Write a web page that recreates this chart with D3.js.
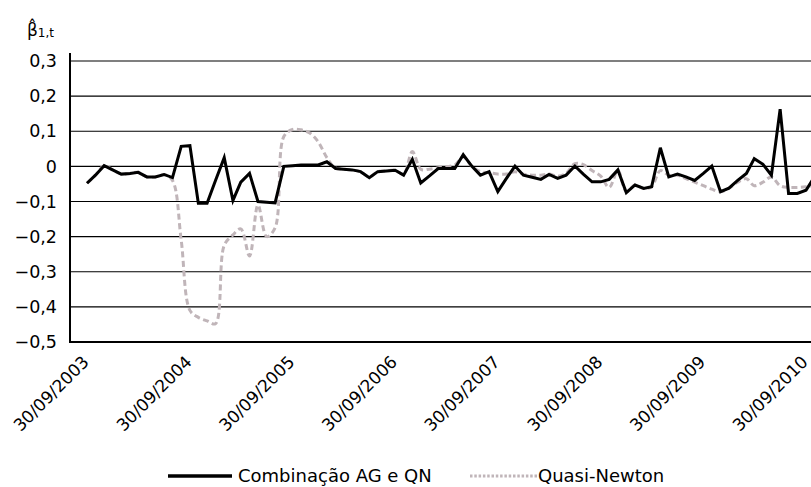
<!DOCTYPE html>
<html>
<head>
<meta charset="utf-8">
<script src="https://cdn.jsdelivr.net/npm/d3@7"></script>
<style>
  html, body { margin: 0; padding: 0; background: #fff; }
  svg { display: block; font-family: "DejaVu Sans", sans-serif; }
</style>
</head>
<body>
<svg id="chart" width="811" height="487"></svg>
<script>
// ---- data ----
const seriesNames = ["Combinação AG e QN", "Quasi-Newton"];
const startYear = 2003, startMonth = 8; // September 2003 (0-based month)
const combinacao = [
  -0.048, -0.025, 0.002, -0.010, -0.022, -0.020, -0.017, -0.030, -0.030, -0.023,
  -0.032, 0.057, 0.059, -0.105, -0.105, -0.040, 0.025, -0.097, -0.045, -0.020,
  -0.100, -0.102, -0.104, 0.000, 0.002, 0.004, 0.004, 0.004, 0.013, -0.006,
  -0.008, -0.010, -0.015, -0.032, -0.015, -0.013, -0.011, -0.025, 0.020, -0.047,
  -0.027, -0.006, -0.006, -0.006, 0.033, 0.000, -0.025, -0.015, -0.072, -0.035,
  0.001, -0.025, -0.031, -0.037, -0.023, -0.034, -0.025, 0.001, -0.022, -0.044,
  -0.044, -0.037, -0.010, -0.075, -0.053, -0.063, -0.058, 0.053, -0.030, -0.022,
  -0.030, -0.040, -0.020, 0.001, -0.072, -0.062, -0.040, -0.020, 0.022, 0.006,
  -0.025, 0.163, -0.077, -0.077, -0.068, -0.030
];
const quasiNewton = [
  -0.048, -0.025, 0.002, -0.010, -0.022, -0.020, -0.017, -0.030, -0.030, -0.023,
  -0.040, -0.210, -0.410, -0.430, -0.440, -0.448, -0.225, -0.195, -0.178, -0.255,
  -0.110, -0.200, -0.175, 0.085, 0.105, 0.104, 0.095, 0.070, 0.025, -0.005,
  -0.008, -0.010, -0.015, -0.030, -0.015, -0.013, -0.011, -0.022, 0.042, -0.008,
  -0.008, -0.004, -0.001, 0.004, 0.027, 0.000, -0.015, -0.018, -0.022, -0.022,
  -0.015, -0.022, -0.025, -0.025, -0.022, -0.028, -0.020, 0.008, 0.005, -0.012,
  -0.028, -0.060, -0.012, -0.072, -0.053, -0.063, -0.058, -0.012, -0.025, -0.025,
  -0.035, -0.045, -0.055, -0.065, -0.072, -0.062, -0.045, -0.035, -0.055, -0.045,
  -0.030, -0.055, -0.060, -0.060, -0.058, -0.055
];
const tickLabels = ["30/09/2003", "30/09/2004", "30/09/2005", "30/09/2006",
                    "30/09/2007", "30/09/2008", "30/09/2009", "30/09/2010"];
const yTicks = [0.3, 0.2, 0.1, 0, -0.1, -0.2, -0.3, -0.4, -0.5];

// ---- build ----
const dates = combinacao.map((_, i) => d3.utcMonth.offset(new Date(Date.UTC(startYear, startMonth, 30)), i));
const tickDates = tickLabels.map(s => {
  const [d, m, y] = s.split("/").map(Number);
  return new Date(Date.UTC(y, m - 1, d));
});

const svg = d3.select("#chart");
const axisX0 = 70, axisY = 342;
const x = d3.scaleUtc()
  .domain([tickDates[0], tickDates[tickDates.length - 1]])
  .range([87, 806]);
const y = d3.scaleLinear().domain([-0.5, 0.3]).range([342, 61]);
const fmt = v => d3.format(".1f")(v).replace(".", ",").replace("-0,0", "0").replace("0,0", "0");

// gridlines
svg.append("g").selectAll("line").data(yTicks.filter(v => v !== -0.5)).join("line")
  .attr("x1", axisX0).attr("x2", 811)
  .attr("y1", d => y(d)).attr("y2", d => y(d))
  .attr("stroke", "#000").attr("stroke-width", 1.2);

// y labels
svg.append("g").selectAll("text").data(yTicks).join("text")
  .attr("x", 57).attr("y", d => y(d)).attr("dy", "0.35em")
  .attr("text-anchor", "end").attr("font-size", 17.5).attr("fill", "#000")
  .text(d => d === 0 ? "0" : fmt(d));

// axes lines
svg.append("line").attr("x1", axisX0).attr("x2", axisX0).attr("y1", 53).attr("y2", axisY + 1)
  .attr("stroke", "#000").attr("stroke-width", 2);
svg.append("line").attr("x1", axisX0 - 1).attr("x2", 811).attr("y1", axisY).attr("y2", axisY)
  .attr("stroke", "#000").attr("stroke-width", 2);

// x labels
svg.append("g").selectAll("text").data(tickDates).join("text")
  .attr("transform", d => `translate(${x(d) + 3},${363}) rotate(-45)`)
  .attr("text-anchor", "end").attr("font-size", 17).attr("fill", "#000")
  .text((d, i) => tickLabels[i]);

// series
const lineLin = d3.line().x((d, i) => x(dates[i])).y(d => y(d));
const lineSmooth = d3.line().x((d, i) => x(dates[i])).y(d => y(d)).curve(d3.curveCatmullRom.alpha(0.5));

svg.append("path").datum(quasiNewton).attr("d", lineSmooth)
  .attr("fill", "none").attr("stroke", "#c0b5b9").attr("stroke-width", 3)
  .attr("stroke-dasharray", "6,3.5");
svg.append("path").datum(combinacao).attr("d", lineLin)
  .attr("fill", "none").attr("stroke", "#000").attr("stroke-width", 3)
  .attr("stroke-linejoin", "miter");

// title
const t = svg.append("text").attr("x", 27).attr("y", 36).attr("font-size", 17).attr("fill", "#000");
t.append("tspan").text("β\u0302");
t.append("tspan").attr("font-size", 12).attr("dy", 1).text("1,t");

// legend
const lg = svg.append("g");
lg.append("line").attr("x1", 168).attr("x2", 232).attr("y1", 476).attr("y2", 476)
  .attr("stroke", "#000").attr("stroke-width", 3.5);
lg.append("text").attr("x", 238).attr("y", 476).attr("dy", "0.35em").attr("font-size", 18)
  .text(seriesNames[0]);
lg.append("line").attr("x1", 470).attr("x2", 537).attr("y1", 476).attr("y2", 476)
  .attr("stroke", "#c0b5b9").attr("stroke-width", 3).attr("stroke-dasharray", "2.5,1.8");
lg.append("text").attr("x", 538).attr("y", 476).attr("dy", "0.35em").attr("font-size", 18)
  .text(seriesNames[1]);
</script>
</body>
</html>
